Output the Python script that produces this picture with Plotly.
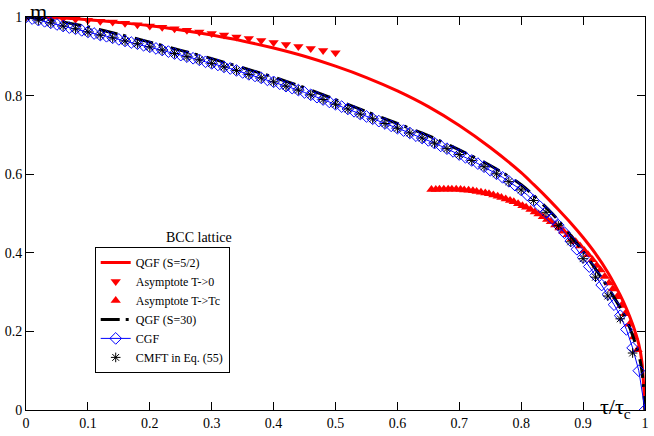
import plotly.graph_objects as go

# QGF (S=5/2), red solid line
qgf52_t = [0.0, 0.05, 0.10, 0.15, 0.20, 0.25, 0.30, 0.35, 0.40, 0.45, 0.50,
           0.55, 0.60, 0.65, 0.70, 0.75, 0.80, 0.82, 0.84, 0.86, 0.88, 0.90,
           0.92, 0.94, 0.96, 0.97, 0.98, 0.99, 0.995, 1.0]
qgf52_m = [1.000, 0.998, 0.993, 0.986, 0.978, 0.967, 0.954, 0.939, 0.921, 0.900, 0.875,
           0.846, 0.812, 0.772, 0.724, 0.668, 0.604, 0.574, 0.543, 0.510, 0.476, 0.439,
           0.398, 0.350, 0.292, 0.258, 0.218, 0.167, 0.122, 0.0]

# asymptote T->0 (down triangles)
low_t = [0.00, 0.02, 0.04, 0.06, 0.08, 0.10, 0.12, 0.14, 0.16, 0.18, 0.20, 0.22, 0.24,
         0.26, 0.28, 0.30, 0.32, 0.34, 0.36, 0.38, 0.40, 0.42, 0.44, 0.46, 0.48, 0.50]
low_m = [1.000, 0.999, 0.998, 0.996, 0.994, 0.992, 0.989, 0.987, 0.984, 0.980, 0.977, 0.974, 0.970,
         0.966, 0.962, 0.958, 0.954, 0.949, 0.945, 0.940, 0.935, 0.930, 0.925, 0.920, 0.915, 0.909]

# asymptote T->Tc (up triangles)
high_t = [0.655, 0.662, 0.668, 0.675, 0.682, 0.688, 0.695, 0.702, 0.708, 0.715, 0.722,
          0.728, 0.735, 0.742, 0.748, 0.755, 0.762, 0.768, 0.775, 0.782, 0.788, 0.795,
          0.802, 0.808, 0.815, 0.822, 0.828, 0.835, 0.842, 0.848, 0.855, 0.862, 0.868,
          0.875, 0.882, 0.888, 0.895, 0.902, 0.908, 0.915, 0.922, 0.928, 0.935, 0.942,
          0.948, 0.955, 0.962, 0.968, 0.975, 0.982, 0.988]
high_m = [0.561, 0.561, 0.562, 0.562, 0.562, 0.562, 0.562, 0.561, 0.560, 0.559, 0.558,
          0.556, 0.554, 0.552, 0.550, 0.547, 0.544, 0.541, 0.537, 0.533, 0.530, 0.525,
          0.520, 0.516, 0.510, 0.504, 0.499, 0.492, 0.485, 0.479, 0.471, 0.463, 0.455,
          0.446, 0.436, 0.428, 0.417, 0.405, 0.395, 0.382, 0.368, 0.356, 0.340, 0.323,
          0.308, 0.288, 0.266, 0.245, 0.218, 0.186, 0.153]

# QGF (S=30), black dash-dot
qgf30_t = [0.0, 0.05, 0.10, 0.15, 0.20, 0.25, 0.30, 0.35, 0.40, 0.45, 0.50, 0.55, 0.60,
           0.65, 0.70, 0.75, 0.80, 0.85, 0.88, 0.90, 0.92, 0.94, 0.96, 0.97, 0.98,
           0.99, 0.995, 1.0]
qgf30_m = [1.000, 0.990, 0.975, 0.956, 0.936, 0.915, 0.894, 0.871, 0.847, 0.820, 0.790, 0.759, 0.729,
           0.698, 0.662, 0.622, 0.573, 0.500, 0.444, 0.403, 0.359, 0.312, 0.260, 0.230, 0.190,
           0.140, 0.100, 0.0]

# CGF, blue line with open diamonds
cgf_t = [0.00, 0.01, 0.02, 0.03, 0.04, 0.05, 0.06, 0.07, 0.08, 0.09,
         0.10, 0.11, 0.12, 0.13, 0.14, 0.15, 0.16, 0.17, 0.18, 0.19,
         0.20, 0.21, 0.22, 0.23, 0.24, 0.25, 0.26, 0.27, 0.28, 0.29,
         0.30, 0.31, 0.32, 0.33, 0.34, 0.35, 0.36, 0.37, 0.38, 0.39,
         0.40, 0.41, 0.42, 0.43, 0.44, 0.45, 0.46, 0.47, 0.48, 0.49,
         0.50, 0.51, 0.52, 0.53, 0.54, 0.55, 0.56, 0.57, 0.58, 0.59,
         0.60, 0.61, 0.62, 0.63, 0.64, 0.65, 0.66, 0.67, 0.68, 0.69,
         0.70, 0.71, 0.72, 0.73, 0.74, 0.75, 0.76, 0.77, 0.78, 0.79,
         0.80, 0.81, 0.82, 0.83, 0.84, 0.85, 0.86, 0.87, 0.88, 0.89,
         0.90, 0.91, 0.92, 0.93, 0.94, 0.95, 0.96, 0.97, 0.98, 0.99, 1.00]
cgf_m = [1.000, 0.996, 0.992, 0.989, 0.985, 0.981, 0.977, 0.973, 0.970, 0.966,
         0.962, 0.958, 0.954, 0.951, 0.947, 0.943, 0.939, 0.935, 0.932, 0.928,
         0.924, 0.920, 0.916, 0.912, 0.907, 0.903, 0.899, 0.895, 0.891, 0.886,
         0.882, 0.878, 0.873, 0.869, 0.864, 0.859, 0.854, 0.850, 0.845, 0.840,
         0.835, 0.830, 0.824, 0.819, 0.814, 0.808, 0.802, 0.796, 0.790, 0.784,
         0.778, 0.772, 0.766, 0.760, 0.753, 0.747, 0.741, 0.735, 0.729, 0.723,
         0.717, 0.711, 0.705, 0.698, 0.692, 0.686, 0.679, 0.672, 0.665, 0.658,
         0.650, 0.643, 0.635, 0.627, 0.619, 0.610, 0.601, 0.592, 0.582, 0.572,
         0.560, 0.547, 0.533, 0.518, 0.503, 0.487, 0.470, 0.451, 0.430, 0.409,
         0.388, 0.365, 0.342, 0.318, 0.294, 0.268, 0.240, 0.205, 0.158, 0.100, 0.000]

# CMFT in Eq. (55), asterisks
cmft_t = [0.00, 0.02, 0.04, 0.06, 0.08, 0.10, 0.12, 0.14, 0.16, 0.18,
          0.20, 0.22, 0.24, 0.26, 0.28, 0.30, 0.32, 0.34, 0.36, 0.38,
          0.40, 0.42, 0.44, 0.46, 0.48, 0.50, 0.52, 0.54, 0.56, 0.58,
          0.60, 0.62, 0.64, 0.66, 0.68, 0.70, 0.72, 0.74, 0.76, 0.78,
          0.80, 0.82, 0.84, 0.86, 0.88, 0.90, 0.92, 0.94, 0.96, 0.98]
cmft_m = [1.000, 0.992, 0.985, 0.977, 0.970, 0.962, 0.954, 0.947, 0.939, 0.932,
          0.924, 0.916, 0.907, 0.899, 0.891, 0.882, 0.873, 0.864, 0.854, 0.845,
          0.835, 0.824, 0.814, 0.802, 0.790, 0.778, 0.766, 0.753, 0.741, 0.729,
          0.717, 0.705, 0.692, 0.679, 0.665, 0.650, 0.635, 0.619, 0.601, 0.581,
          0.560, 0.533, 0.503, 0.469, 0.428, 0.385, 0.338, 0.290, 0.232, 0.145]

xticks = [0, 0.1, 0.2, 0.3, 0.4, 0.5, 0.6, 0.7, 0.8, 0.9, 1]
xlabels = ["0", "0.1", "0.2", "0.3", "0.4", "0.5", "0.6", "0.7", "0.8", "0.9", "1"]
yticks = [0, 0.2, 0.4, 0.6, 0.8, 1]
ylabels = ["0", "0.2", "0.4", "0.6", "0.8", "1"]

serif = "Liberation Serif, Times New Roman, serif"

fig = go.Figure()

fig.add_trace(go.Scatter(x=qgf52_t, y=qgf52_m, mode="lines", name="QGF (S=5/2)",
                         line=dict(color="#ff0000", width=3, shape="spline", smoothing=0.8)))
fig.add_trace(go.Scatter(x=low_t, y=low_m, mode="markers", name="Asymptote T->0",
                         marker=dict(symbol="triangle-down", color="#ff0000", size=9)))
fig.add_trace(go.Scatter(x=high_t, y=high_m, mode="markers", name="Asymptote T->Tc",
                         marker=dict(symbol="triangle-up", color="#ff0000", size=9)))
fig.add_trace(go.Scatter(x=qgf30_t, y=qgf30_m, mode="lines", name="QGF (S=30)",
                         line=dict(color="black", width=3, dash="19px,6px,3px,9px",
                                   shape="spline", smoothing=0.8)))
fig.add_trace(go.Scatter(x=cgf_t, y=cgf_m, mode="lines+markers", name="CGF",
                         line=dict(color="#0000ff", width=1),
                         marker=dict(symbol="diamond-open", color="#0000ff", size=9,
                                     line=dict(width=1))))
fig.add_trace(go.Scatter(x=cmft_t, y=cmft_m, mode="markers", name="CMFT in Eq. (55)",
                         marker=dict(symbol="asterisk-open", color="black", size=8,
                                     line=dict(width=1, color="black"))))

axis_common = dict(showgrid=False, zeroline=False, showline=True, linecolor="black",
                   linewidth=1, mirror="ticks", ticks="inside", ticklen=8,
                   tickcolor="black", tickfont=dict(family=serif, size=14, color="black"))

fig.update_xaxes(range=[0, 1], tickvals=xticks, ticktext=xlabels, **axis_common)
fig.update_yaxes(range=[0, 1], tickvals=yticks, ticktext=ylabels, **axis_common)

# axis labels placed like the original (corners)
fig.add_annotation(x=0.021, y=1.0, xref="paper", yref="paper", text="m",
                   xanchor="center", yanchor="middle", yshift=6,
                   showarrow=False, font=dict(family=serif, size=22, color="black"))
fig.add_annotation(x=0.98, y=-0.036, xref="paper", yref="paper", text="τ/τ<sub>c</sub>",
                   showarrow=False, font=dict(family=serif, size=22, color="black"))
fig.add_annotation(x=0.223, y=0.438, xref="paper", yref="paper", text="BCC lattice",
                   showarrow=False, font=dict(family=serif, size=14, color="black"))

fig.update_layout(width=654, height=436,
                  margin=dict(l=26, r=5, t=17, b=25),
                  plot_bgcolor="white", paper_bgcolor="white",
                  showlegend=True,
                  legend=dict(x=0.111, y=0.415, xanchor="left", yanchor="top",
                              bordercolor="black", borderwidth=1, bgcolor="white",
                              itemwidth=30, tracegroupgap=0,
                              font=dict(family=serif, size=12, color="black")))

# drop the default page margin so the figure sits at the window corner
fig.write_html("out.html", config={"displayModeBar": False},
               post_script="document.body.style.margin='0';")
